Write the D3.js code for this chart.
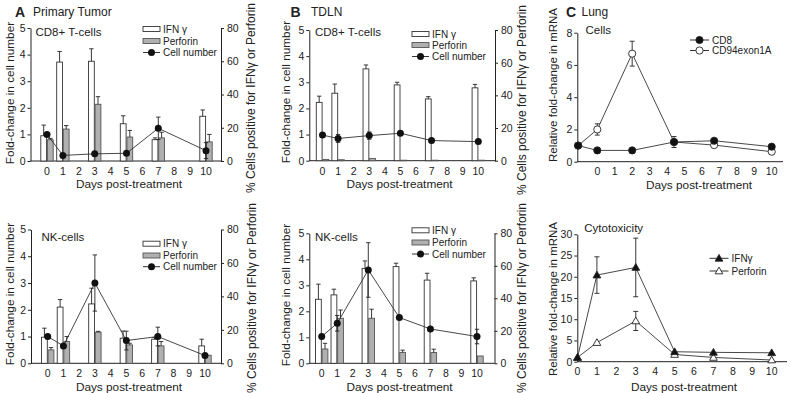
<!DOCTYPE html>
<html><head><meta charset="utf-8">
<script src="https://cdn.jsdelivr.net/npm/d3@7"></script>
<style>body{margin:0;background:#fff}</style>
</head><body>
<svg id="c" width="791" height="393"></svg>
<script>
// ---------- data ----------
const days = [0, 1, 3, 5, 7, 10];
const dayTicks = [0, 1, 2, 3, 4, 5, 6, 7, 8, 9, 10];
const foldTicks = [0, 1, 2, 3, 4, 5];
const pctTicks = [0, 20, 40, 60, 80];

// Panel A – Primary tumor, CD8+ T-cells (bars in % cells, cell number in fold-change)
const aCd8Ifn = [15.2, 59.5, 60.0, 22.4, 12.8, 26.9];
const aCd8IfnErr = [6.4, 6.4, 7.5, 4.8, 1.1, 3.8];
const aCd8Perf = [12.8, 19.2, 34.1, 14.4, 13.9, 11.5];
const aCd8PerfErr = [0.8, 2.1, 4.6, 4.0, 3.4, 4.5];
const aCd8Cell = [1.0, 0.21, 0.27, 0.29, 1.23, 0.39];
const aCd8CellErr = [0, 0, 0, 0.05, 0.42, 0.3];

// Panel A – Primary tumor, NK-cells
const aNkIfn = [15.6, 33.6, 35.5, 15.0, 14.4, 10.4];
const aNkIfnErr = [5.4, 4.5, 9.4, 4.3, 1.0, 4.0];
const aNkPerf = [8.0, 13.0, 18.6, 11.0, 10.4, 4.8];
const aNkPerfErr = [1.4, 3.0, 0.5, 1.0, 2.6, 0.3];
const aNkCell = [1.0, 0.65, 3.0, 0.85, 1.0, 0.29];
const aNkCellErr = [0, 0, 1.05, 0.35, 0.35, 0];

// Panel B – TDLN, CD8+ T-cells
const bCd8Ifn = [35.7, 41.3, 56.2, 46.4, 37.8, 44.6];
const bCd8IfnErr = [3.8, 5.6, 2.4, 1.6, 1.4, 2.1];
const bCd8Perf = [0.8, 0.6, 1.4, 0.3, 0.3, 0.3];
const bCd8PerfErr = [0, 0, 0.2, 0, 0, 0];
const bCd8Cell = [0.98, 0.85, 0.96, 1.05, 0.77, 0.73];
const bCd8CellErr = [0.05, 0.15, 0.14, 0.05, 0.05, 0.05];

// Panel B – TDLN, NK-cells
const bNkIfn = [39.4, 42.1, 58.4, 59.5, 51.2, 50.7];
const bNkIfnErr = [9.3, 3.5, 4.6, 2.1, 4.2, 1.9];
const bNkPerf = [8.8, 27.7, 27.7, 6.7, 6.6, 4.5];
const bNkPerfErr = [3.5, 5.1, 5.6, 1.4, 2.1, 0.2];
const bNkCell = [1.03, 1.54, 3.59, 1.76, 1.32, 1.03];
const bNkCellErr = [0, 0.3, 1.05, 0, 0, 0.28];

// Panel C – Lung, cells (mRNA)
const cCellDays = [-1.1, 0, 2, 4.4, 6.7, 10];
const cCd8 = [1.0, 0.7, 0.7, 1.22, 1.3, 0.93];
const cCd8Err = [0, 0, 0, 0, 0, 0];
const cCd94 = [1.0, 2.0, 6.7, 1.22, 1.03, 0.62];
const cCd94Err = [0, 0.35, 0.77, 0.34, 0, 0];
const cCellTicks = [0, 2, 4, 6, 8];

// Panel C – Lung, cytotoxicity (mRNA)
const cCytoDays = [0, 1, 3, 5, 7, 10];
const cIfn = [1.0, 20.4, 22.2, 2.35, 2.2, 2.1];
const cIfnErr = [0, 4.3, 6.9, 0, 0, 0];
const cPerf = [1.0, 4.5, 9.6, 1.7, 1.0, 0.4];
const cPerfErr = [0, 0, 2.25, 0, 0, 0];
const cCytoTicks = [0, 5, 10, 15, 20, 25, 30];

// ---------- drawing ----------
const FONT = "'Liberation Sans', Arial, Helvetica, sans-serif";
const INK = "#222";
const svg = d3.select("#c").style("font-family", FONT);
const intFmt = d3.format("d");

function txt(g, x, y, s, opt = {}) {
  return g.append("text").attr("x", x).attr("y", y)
    .attr("font-size", opt.size || 11)
    .attr("font-weight", opt.bold ? "bold" : "normal")
    .attr("text-anchor", opt.anchor || "start")
    .attr("dominant-baseline", "central")
    .attr("fill", INK)
    .attr("transform", opt.rot ? `rotate(-90,${x},${y})` : null)
    .text(s);
}

function styleAxis(sel) {
  sel.select(".domain").attr("stroke", INK);
  sel.selectAll(".tick line").attr("stroke", INK);
  sel.selectAll(".tick text").attr("font-size", 10.5).attr("font-family", FONT).attr("fill", INK);
}

function errBar(g, x, yTop, yBot, cap) {
  g.append("line").attr("x1", x).attr("x2", x).attr("y1", yTop).attr("y2", yBot)
    .attr("stroke", INK).attr("stroke-width", 0.9);
  g.append("line").attr("x1", x - cap).attr("x2", x + cap).attr("y1", yTop).attr("y2", yTop)
    .attr("stroke", INK).attr("stroke-width", 0.9);
}

function barPanel(c) {
  const g = svg.append("g");
  const yL = d3.scaleLinear().domain([0, 5]).range([c.y0, c.yTop]);
  const yR = d3.scaleLinear().domain([0, 80]).range([c.y0, c.yTop]);
  const x = d3.scaleLinear().domain(c.xDom).range(c.xRng);

  g.append("g").attr("transform", `translate(${c.axL},0)`)
    .call(d3.axisLeft(yL).tickValues(foldTicks).tickFormat(intFmt).tickSize(3).tickSizeOuter(0).tickPadding(2))
    .call(styleAxis);
  g.append("g").attr("transform", `translate(${c.axR},0)`)
    .call(d3.axisRight(yR).tickValues(pctTicks).tickFormat(intFmt).tickSize(3).tickSizeOuter(0).tickPadding(3))
    .call(styleAxis);
  g.append("line").attr("x1", c.axL).attr("x2", c.axR).attr("y1", c.y0).attr("y2", c.y0).attr("stroke", INK);
  dayTicks.forEach(d => txt(g, x(d), c.y0 + 9.8, d, { size: 10.5, anchor: "middle" }));
  txt(g, c.xTitle[0], c.xTitle[1], "Days post-treatment", { size: 11.8, anchor: "middle" });
  txt(g, c.yTitleL[0], c.yTitleL[1], "Fold-change in cell number", { size: 11.8, anchor: "middle", rot: true });
  txt(g, c.yTitleR[0], c.yTitleR[1], "% Cells positive for IFNγ or Perforin", { size: 12, anchor: "middle", rot: true });
  txt(g, c.sub[0], c.sub[1], c.subText, { size: 11.5 });

  const bw = 5.8;
  g.selectAll(".ifn").data(days).join("rect").attr("class", "ifn")
    .attr("x", d => x(d) - bw - 0.4).attr("width", bw)
    .attr("y", (d, i) => yR(c.ifn[i])).attr("height", (d, i) => c.y0 - yR(c.ifn[i]))
    .attr("fill", "#fff").attr("stroke", "#333").attr("stroke-width", 0.9);
  g.selectAll(".perf").data(days).join("rect").attr("class", "perf")
    .attr("x", d => x(d) + 0.4).attr("width", bw)
    .attr("y", (d, i) => yR(c.perf[i])).attr("height", (d, i) => c.y0 - yR(c.perf[i]))
    .attr("fill", "#b0b0b0").attr("stroke", "#555").attr("stroke-width", 0.9);
  days.forEach((d, i) => {
    if (c.ifnErr[i] > 0.3) errBar(g, x(d) - bw / 2 - 0.4, yR(c.ifn[i] + c.ifnErr[i]), yR(c.ifn[i]), 2.2);
    if (c.perfErr[i] > 0.3) errBar(g, x(d) + bw / 2 + 0.4, yR(c.perf[i] + c.perfErr[i]), yR(c.perf[i]), 2.2);
  });
  const pts = days.map((d, i) => [d, c.cell[i]]);
  g.append("path").datum(pts)
    .attr("d", d3.line().x(p => x(p[0])).y(p => yL(p[1])))
    .attr("fill", "none").attr("stroke", "#333").attr("stroke-width", 0.9);
  days.forEach((d, i) => {
    if (c.cellErr[i] > 0) {
      errBar(g, x(d), yL(c.cell[i] + c.cellErr[i]), yL(c.cell[i]), 2.2);
      errBar(g, x(d), yL(c.cell[i] - c.cellErr[i]), yL(c.cell[i]), 2.2);
    }
  });
  g.selectAll(".pt").data(days).join("circle").attr("class", "pt")
    .attr("cx", d => x(d)).attr("cy", (d, i) => yL(c.cell[i])).attr("r", 3.5)
    .attr("fill", "#111");

  const [lx, l1, l2, l3] = c.leg;
  g.append("rect").attr("x", lx).attr("y", l1 - 2.5).attr("width", 17).attr("height", 5)
    .attr("fill", "#fff").attr("stroke", "#333").attr("stroke-width", 0.9);
  g.append("rect").attr("x", lx).attr("y", l2 - 2.5).attr("width", 17).attr("height", 5)
    .attr("fill", "#b0b0b0").attr("stroke", "#555").attr("stroke-width", 0.9);
  g.append("line").attr("x1", lx).attr("x2", lx + 17).attr("y1", l3).attr("y2", l3).attr("stroke", "#333");
  g.append("circle").attr("cx", lx + 8.5).attr("cy", l3).attr("r", 3.5).attr("fill", "#111");
  txt(g, lx + 20, l1, "IFN γ", { size: 10 });
  txt(g, lx + 20, l2, "Perforin", { size: 10 });
  txt(g, lx + 20, l3, "Cell number", { size: 10 });
}

function marker(g, type, cx, cy, filled) {
  if (type === "circle") {
    g.append("circle").attr("cx", cx).attr("cy", cy).attr("r", 3.6)
      .attr("fill", filled ? "#111" : "#fff").attr("stroke", "#222").attr("stroke-width", 0.9);
  } else {
    g.append("path").attr("d", d3.symbol(d3.symbolTriangle, 26)())
      .attr("transform", `translate(${cx},${cy + 0.6})`)
      .attr("fill", filled ? "#111" : "#fff").attr("stroke", "#222").attr("stroke-width", 0.9);
  }
}

function linePanel(c) {
  const g = svg.append("g");
  const y = d3.scaleLinear().domain(c.yDom).range([c.y0, c.yTop]);
  const x = d3.scaleLinear().domain(c.xDom).range(c.xRng);
  g.append("g").attr("transform", `translate(${c.axL},0)`)
    .call(d3.axisLeft(y).tickValues(c.ticks).tickFormat(intFmt).tickSize(3).tickSizeOuter(0).tickPadding(2))
    .call(styleAxis);
  g.append("line").attr("x1", c.axL).attr("x2", c.axEnd).attr("y1", c.y0).attr("y2", c.y0).attr("stroke", INK);
  dayTicks.forEach(d => txt(g, x(d), c.y0 + 9.5, d, { size: 10.5, anchor: "middle" }));
  txt(g, c.xTitle[0], c.xTitle[1], "Days post-treatment", { size: 11.8, anchor: "middle" });
  txt(g, c.yTitle[0], c.yTitle[1], "Relative fold-change in mRNA", { size: 11.5, anchor: "middle", rot: true });
  txt(g, c.sub[0], c.sub[1], c.subText, { size: 11.5 });

  c.series.forEach(s => {
    const pts = c.days.map((d, i) => [d, s.v[i]]);
    g.append("path").datum(pts)
      .attr("d", d3.line().x(p => x(p[0])).y(p => y(p[1])))
      .attr("fill", "none").attr("stroke", "#333").attr("stroke-width", 0.9);
  });
  c.series.forEach(s => {
    c.days.forEach((d, i) => {
      if (s.e[i] > 0) {
        errBar(g, x(d), y(s.v[i] + s.e[i]), y(s.v[i]), 2.5);
        errBar(g, x(d), y(s.v[i] - s.e[i]), y(s.v[i]), 2.5);
      }
    });
  });
  c.series.slice().reverse().forEach(s => {
    c.days.forEach((d, i) => marker(g, s.type, x(d), y(s.v[i]), s.filled));
  });
  c.series.forEach((s, k) => {
    const ly = c.leg[1] + k * c.leg[2];
    g.append("line").attr("x1", c.leg[0]).attr("x2", c.leg[0] + 19).attr("y1", ly).attr("y2", ly).attr("stroke", "#333");
    marker(g, s.type, c.leg[0] + 9.5, ly, s.filled);
    txt(g, c.leg[0] + 22, ly, s.name, { size: 10 });
  });
}

txt(svg, 15, 11.5, "A", { size: 14, bold: true });
txt(svg, 33, 11.5, "Primary Tumor", { size: 12 });
txt(svg, 290.5, 11.5, "B", { size: 14, bold: true });
txt(svg, 311, 11.5, "TDLN", { size: 12 });
txt(svg, 566, 11.5, "C", { size: 14, bold: true });
txt(svg, 581.5, 11.5, "Lung", { size: 12 });

barPanel({
  axL: 30.5, axR: 221, y0: 161, yTop: 28, xDom: [0, 10], xRng: [47, 206],
  ifn: aCd8Ifn, ifnErr: aCd8IfnErr, perf: aCd8Perf, perfErr: aCd8PerfErr, cell: aCd8Cell, cellErr: aCd8CellErr,
  xTitle: [129, 183.8], yTitleL: [9.5, 93], yTitleR: [251, 98], sub: [35.5, 32], subText: "CD8+ T-cells",
  leg: [143, 29, 41, 52.5]
});
barPanel({
  axL: 31, axR: 221, y0: 363.3, yTop: 229.5, xDom: [0, 10], xRng: [47.7, 205],
  ifn: aNkIfn, ifnErr: aNkIfnErr, perf: aNkPerf, perfErr: aNkPerfErr, cell: aNkCell, cellErr: aNkCellErr,
  xTitle: [129, 386.5], yTitleL: [9.5, 294], yTitleR: [252, 298], sub: [41.5, 236.7], subText: "NK-cells",
  leg: [143, 243.7, 255.5, 266.7]
});
barPanel({
  axL: 309.3, axR: 495, y0: 160.7, yTop: 30, xDom: [0, 10], xRng: [322.5, 478.3],
  ifn: bCd8Ifn, ifnErr: bCd8IfnErr, perf: bCd8Perf, perfErr: bCd8PerfErr, cell: bCd8Cell, cellErr: bCd8CellErr,
  xTitle: [399.5, 183.8], yTitleL: [286, 92], yTitleR: [522, 100], sub: [315, 31.7], subText: "CD8+ T-cells",
  leg: [412, 34, 45, 56.5]
});
barPanel({
  axL: 309.3, axR: 494.5, y0: 363.3, yTop: 233.3, xDom: [0, 10], xRng: [321.7, 477],
  ifn: bNkIfn, ifnErr: bNkIfnErr, perf: bNkPerf, perfErr: bNkPerfErr, cell: bNkCell, cellErr: bNkCellErr,
  xTitle: [399.5, 387], yTitleL: [286, 295], yTitleR: [522, 298], sub: [315, 236.7], subText: "NK-cells",
  leg: [412, 230.3, 242.5, 254]
});
linePanel({
  axL: 577.3, axEnd: 783, y0: 161.7, yTop: 32.7, yDom: [0, 8], ticks: cCellTicks,
  xDom: [0, 10], xRng: [597.3, 771.7], days: cCellDays,
  series: [
    { name: "CD8", v: cCd8, e: cCd8Err, type: "circle", filled: true },
    { name: "CD94exon1A", v: cCd94, e: cCd94Err, type: "circle", filled: false }
  ],
  xTitle: [699, 184.8], yTitle: [553.3, 85], sub: [585.5, 30], subText: "Cells",
  leg: [690, 40, 10.5]
});
linePanel({
  axL: 577.3, axEnd: 787, y0: 361.7, yTop: 234.3, yDom: [0, 30], ticks: cCytoTicks,
  xDom: [0, 10], xRng: [577.5, 771.7], days: cCytoDays,
  series: [
    { name: "IFNγ", v: cIfn, e: cIfnErr, type: "tri", filled: true },
    { name: "Perforin", v: cPerf, e: cPerfErr, type: "tri", filled: false }
  ],
  xTitle: [684, 386.7], yTitle: [553.3, 299], sub: [584.3, 228.3], subText: "Cytotoxicity",
  leg: [709.5, 258.3, 12.7]
});
</script>
</body></html>
